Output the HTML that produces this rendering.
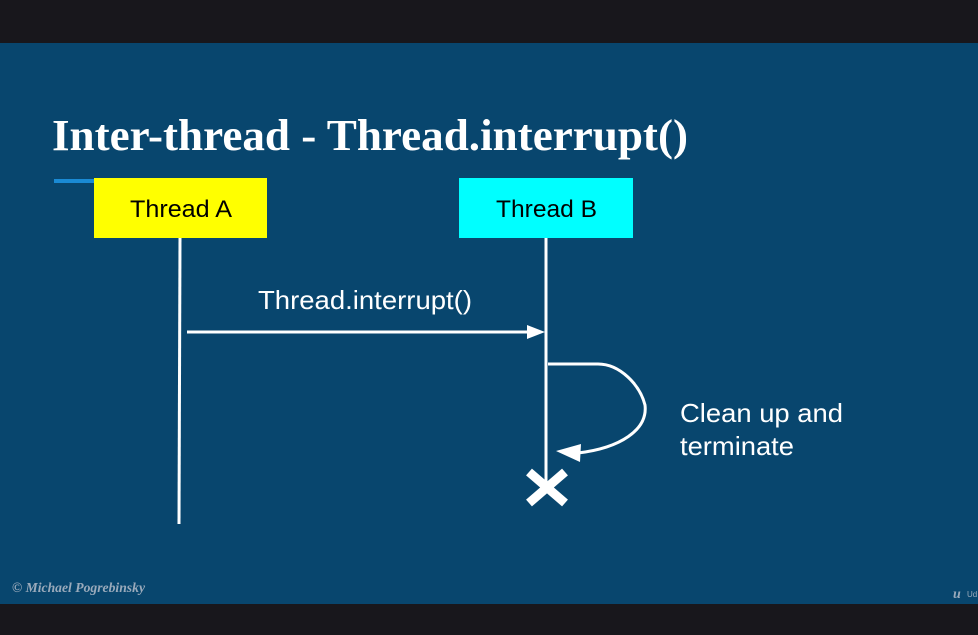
<!DOCTYPE html>
<html><head><meta charset="utf-8"><style>
html,body{margin:0;padding:0;background:#18171c;width:978px;height:635px;overflow:hidden}
</style></head><body>
<svg width="978" height="635" xmlns="http://www.w3.org/2000/svg" style="display:block">
<rect x="0" y="0" width="978" height="635" fill="#18171c"/>
<rect x="0" y="43" width="978" height="561" fill="#08466e"/>
<text x="52" y="150" font-family="Liberation Serif, serif" font-weight="bold" font-size="44" fill="#fff" textLength="636" lengthAdjust="spacingAndGlyphs">Inter-thread - Thread.interrupt()</text>
<rect x="54" y="179" width="40" height="4" fill="#1a8ad4"/>
<rect x="94" y="178" width="173" height="60" fill="#ffff00"/>
<text x="130" y="217" font-family="Liberation Sans, sans-serif" font-size="24" fill="#000" textLength="102" lengthAdjust="spacingAndGlyphs">Thread A</text>
<rect x="459" y="178" width="174" height="60" fill="#00ffff"/>
<text x="496" y="217" font-family="Liberation Sans, sans-serif" font-size="24" fill="#000" textLength="101" lengthAdjust="spacingAndGlyphs">Thread B</text>
<line x1="180" y1="238" x2="179" y2="524" stroke="#fff" stroke-width="3"/>
<line x1="546" y1="238" x2="546" y2="482" stroke="#fff" stroke-width="3"/>
<line x1="187" y1="332" x2="530" y2="332" stroke="#fff" stroke-width="3"/>
<polygon points="527,325 545,332 527,339" fill="#fff"/>
<text x="258" y="309" font-family="Liberation Sans, sans-serif" font-size="26" fill="#fff" textLength="214" lengthAdjust="spacingAndGlyphs">Thread.interrupt()</text>
<path d="M548,364 L598,364 C620,364 640,385 645,405 C648,430 620,448 578,453" fill="none" stroke="#fff" stroke-width="3"/>
<polygon points="556,451 581,444 580,462" fill="#fff"/>
<g stroke="#fff" stroke-width="9"><line x1="529" y1="472" x2="565" y2="503"/><line x1="565" y1="472" x2="529" y2="503"/></g>
<text x="680" y="422" font-family="Liberation Sans, sans-serif" font-size="26" fill="#fff" textLength="163" lengthAdjust="spacingAndGlyphs">Clean up and</text>
<text x="680" y="455" font-family="Liberation Sans, sans-serif" font-size="26" fill="#fff" textLength="114" lengthAdjust="spacingAndGlyphs">terminate</text>
<text x="12" y="592" font-family="Liberation Serif, serif" font-style="italic" font-weight="bold" font-size="14" fill="#9aaabb" textLength="133" lengthAdjust="spacingAndGlyphs">© Michael Pogrebinsky</text>
<text x="953" y="598" font-family="Liberation Serif, serif" font-style="italic" font-weight="bold" font-size="14" fill="#9aaabb">u</text>
<text x="967" y="597" font-family="Liberation Sans, sans-serif" font-size="8" fill="#9aaabb">Ud</text>
</svg>
</body></html>
